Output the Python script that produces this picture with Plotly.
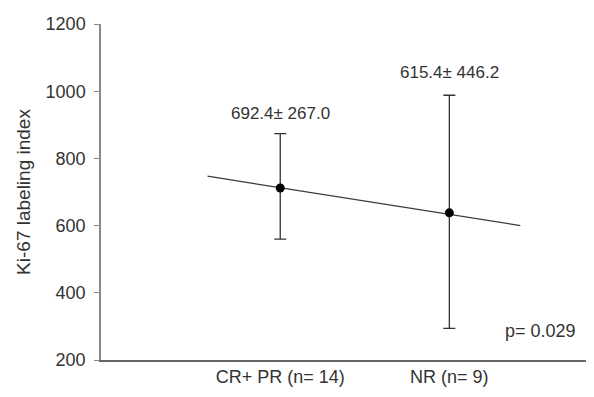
import plotly.graph_objects as go

categories = ["CR+ PR (n= 14)", "NR (n= 9)"]
cat_pos = [0, 1]
means = [712, 638]
err_plus = [162, 350]
err_minus = [152, 344]
labels = ["692.4± 267.0", "615.4± 446.2"]
label_y = [935, 1056]
trend_x = [-0.43, 1.42]
trend_y = [747, 600]
y_ticks = [200, 400, 600, 800, 1000, 1200]
p_text = "p= 0.029"

fig = go.Figure()
fig.add_trace(go.Scatter(x=trend_x, y=trend_y, mode="lines",
                         line=dict(color="#3a3a3a", width=1.3), showlegend=False, hoverinfo="skip"))
fig.add_trace(go.Scatter(x=cat_pos, y=means, mode="markers",
                         marker=dict(color="black", size=9),
                         error_y=dict(type="data", symmetric=False, array=err_plus, arrayminus=err_minus,
                                      color="#333", thickness=1.3, width=6),
                         showlegend=False))
for xp, lab, yv in zip(cat_pos, labels, label_y):
    fig.add_annotation(x=xp, y=yv, text=lab, showarrow=False,
                       font=dict(size=17, color="#333"), xanchor="center", yanchor="middle")
fig.add_annotation(x=1.54, y=285, text=p_text, showarrow=False,
                   font=dict(size=18, color="#333"), xanchor="center", yanchor="middle")
fig.add_shape(type="line", xref="paper", yref="paper", x0=1.0096, x1=1.0096, y0=-0.12, y1=1.06,
              line=dict(color="#ddd", width=1))

fig.update_layout(
    width=586, height=389,
    margin=dict(l=93, r=6, t=12, b=37),
    paper_bgcolor="white", plot_bgcolor="white",
    font=dict(family="Liberation Sans, Arial, sans-serif", size=18, color="#333"),
    xaxis=dict(range=[-1.06, 1.82], tickvals=cat_pos, ticktext=categories,
               showgrid=False, zeroline=False, showline=True, linecolor="#666", linewidth=1.5,
               ticks="", tickfont=dict(size=18, color="#333")),
    yaxis=dict(range=[200, 1200], tickvals=y_ticks,
               showgrid=False, zeroline=False, showline=True, linecolor="#888", linewidth=1.5,
               ticks="outside", ticklen=5, tickcolor="#888", ticklabelstandoff=5,
               tickfont=dict(size=18, color="#333"),
               title=dict(text="Ki-67 labeling index", font=dict(size=19, color="#333"), standoff=10)),
)
fig.write_html("out.html")
